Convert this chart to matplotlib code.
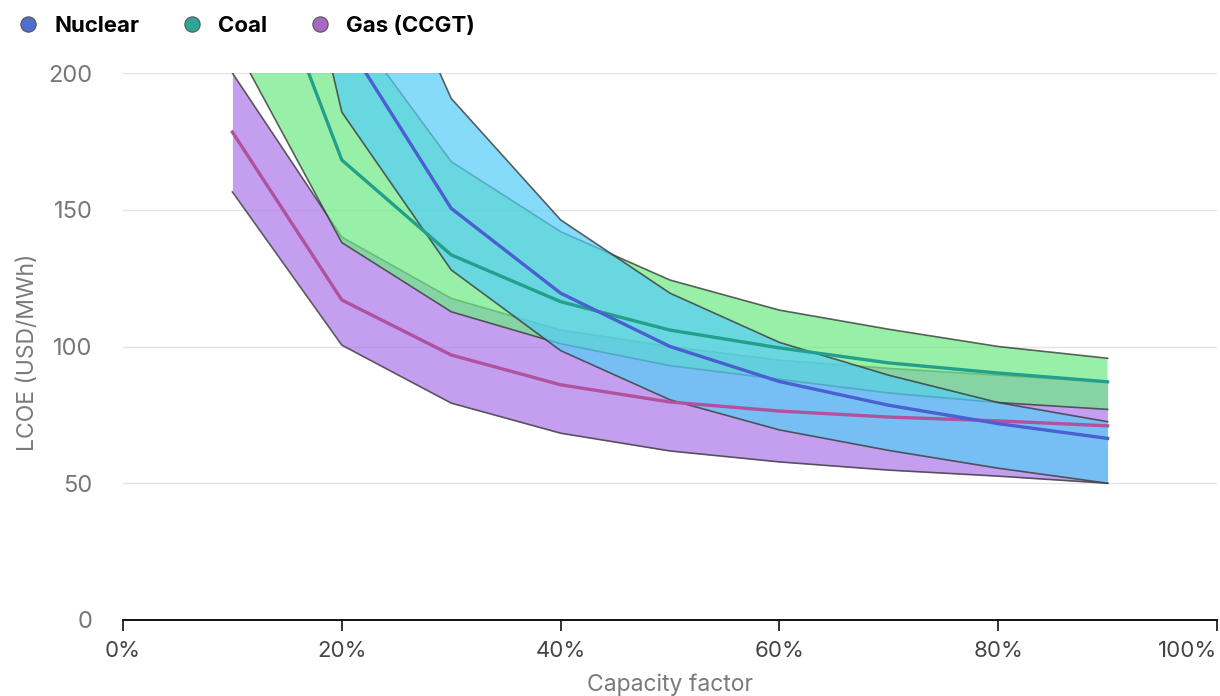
import matplotlib.pyplot as plt
from matplotlib.lines import Line2D

# capacity factor (%) and LCOE (USD/MWh)
capacity = [10, 20, 30, 40, 50, 60, 70, 80, 90]

nuclear_low = [358, 185.7, 128, 98.5, 80.5, 69.5, 62, 55.5, 50]
nuclear_mid = [400, 214, 150.5, 119.5, 100, 87.2, 78.5, 71.8, 66.4]
nuclear_high = [545, 280, 190.7, 146.3, 119.5, 101.5, 89.5, 79.5, 72.5]

coal_low = [212, 138, 112.7, 101, 93, 88, 83, 79.5, 77]
coal_mid = [273, 168.2, 133.5, 116.4, 106, 99.5, 94, 90.3, 87.1]
coal_high = [360, 222, 167.6, 142, 124.3, 113.3, 106.3, 100, 95.7]

gas_low = [156.5, 100.5, 79.3, 68.3, 61.8, 57.8, 54.8, 52.6, 50]
gas_mid = [178.4, 117, 96.9, 86, 79.7, 76.4, 74.2, 72.8, 71]
gas_high = [200, 140, 117.6, 106, 100, 95, 92, 89.5, 87]

series_names = ['Nuclear', 'Coal', 'Gas (CCGT)']
line_colors = ['#4a5fd0', '#23a08c', '#b0529e']
dot_colors = ['#4f6fcf', '#2fa595', '#a868bf']
fill_colors = ['#55cdf8', '#6cea83', '#ab77ea']

xticks = [0, 20, 40, 60, 80, 100]
yticks = [0, 50, 100, 150, 200]

plt.rcParams['font.family'] = ['Inter', 'DejaVu Sans']

fig = plt.figure(figsize=(12.2, 6.96), dpi=100)
ax = fig.add_axes([123 / 1220, 1 - 620 / 696, 1094 / 1220, 547 / 696])

bands = [
    (gas_low, gas_mid, gas_high, 2),
    (coal_low, coal_mid, coal_high, 1),
    (nuclear_low, nuclear_mid, nuclear_high, 0),
]

# fills with their outlines, gas at the bottom, nuclear on top
z = 2
for low, mid, high, i in bands:
    ax.fill_between(capacity, low, high, color=fill_colors[i], alpha=0.7,
                    linewidth=0, zorder=z)
    ax.plot(capacity, low, color='#3a3a3a', lw=1.2, alpha=0.8, zorder=z + 0.5)
    ax.plot(capacity, high, color='#3a3a3a', lw=1.2, alpha=0.8, zorder=z + 0.5)
    z += 1

# central estimates above all fills
for low, mid, high, i in bands:
    ax.plot(capacity, mid, color=line_colors[i], lw=2.4, zorder=10)

ax.set_xlim(0, 100)
ax.set_ylim(0, 200)

ax.set_yticks(yticks)
ax.set_yticklabels([str(v) for v in yticks])
ax.set_xticks(xticks)
ax.set_xticklabels([f'{v}%' for v in xticks])
# the last label sits against the right edge
ax.get_xticklabels()[-1].set_horizontalalignment('right')

ax.grid(axis='y', color='#e4e4e4', lw=1, zorder=0)
ax.set_axisbelow(True)
for s in ['top', 'right', 'left']:
    ax.spines[s].set_visible(False)
ax.spines['bottom'].set_color('#111111')
ax.spines['bottom'].set_linewidth(1.4)
ax.spines['bottom'].set_zorder(12)

ax.tick_params(axis='y', length=0, pad=22, labelsize=17, labelcolor='#777777')
ax.tick_params(axis='x', length=8, width=1.2, color='#111111', pad=7,
               labelsize=16, labelcolor='#444444')

ax.set_xlabel('Capacity factor', fontsize=16.5, color='#7a7a7a', labelpad=9)
ax.set_ylabel('LCOE (USD/MWh)', fontsize=16.5, color='#7a7a7a')
ax.yaxis.set_label_coords(-0.077, 0.49)

handles = [Line2D([], [], marker='o', linestyle='none', markersize=11,
                  markerfacecolor=dot_colors[i], markeredgecolor='#555555',
                  markeredgewidth=0.8) for i in range(3)]
fig.legend(handles, series_names, loc='upper left', bbox_to_anchor=(0.001, 1.0),
           ncol=3, frameon=False, prop={'weight': 'bold', 'size': 16},
           handletextpad=0.7, columnspacing=1.85, handlelength=1.0,
           borderaxespad=0.3)

fig.savefig('out.png', dpi=100)
